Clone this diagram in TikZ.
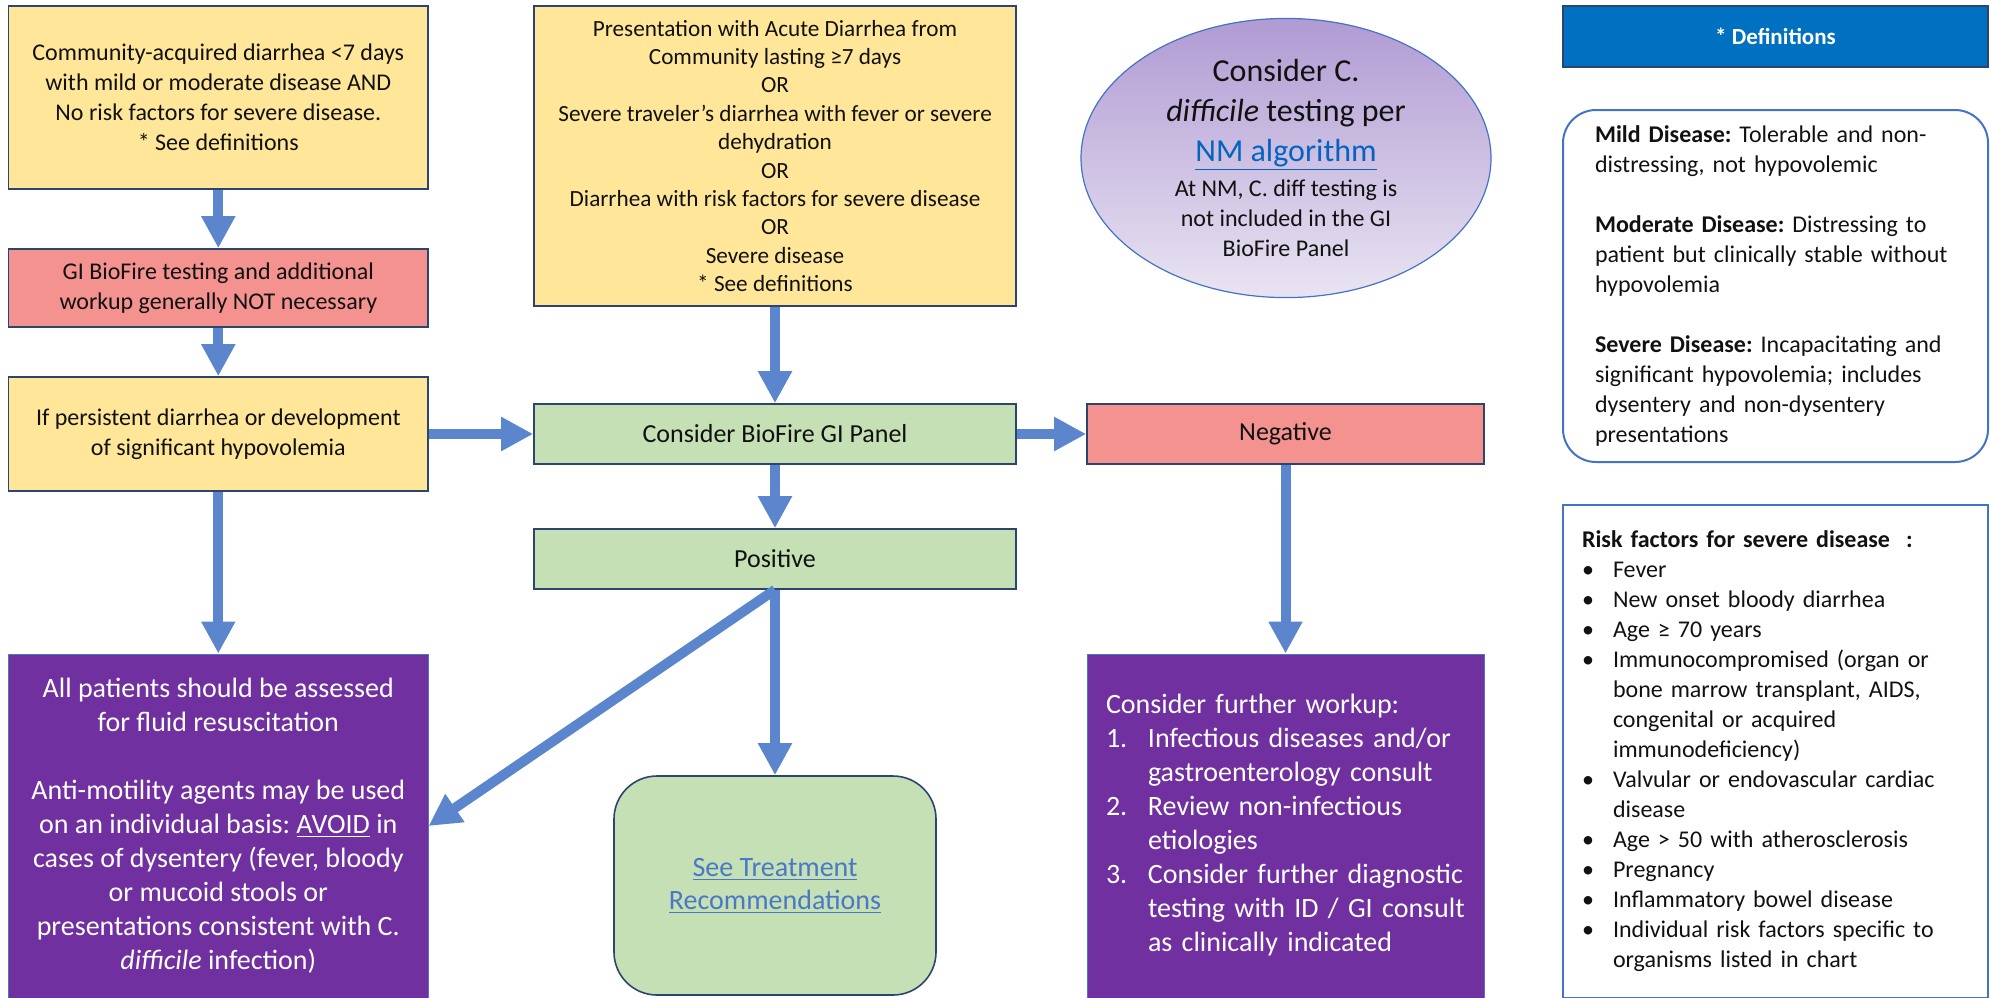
\documentclass[tikz,border=0pt]{standalone}
\usepackage{fontspec}
\setmainfont{Carlito}
\usetikzlibrary{arrows.meta,shapes.geometric}
\definecolor{Ink}{HTML}{111111}
\definecolor{Edge}{HTML}{2C4570}
\definecolor{Butter}{HTML}{FFE699}
\definecolor{Salmon}{HTML}{F4928F}
\definecolor{Sage}{HTML}{C5E0B4}
\definecolor{Plum}{HTML}{7030A0}
\definecolor{PlumEdge}{HTML}{4A78B8}
\definecolor{Flow}{HTML}{5B86CD}
\definecolor{DefBlue}{HTML}{0070C0}
\definecolor{DefEdge}{HTML}{4472C4}
\definecolor{LinkBlue}{HTML}{0563C1}
\definecolor{LinkSoft}{HTML}{4A78C8}
\definecolor{LilacTop}{HTML}{B09BD3}
\definecolor{LilacBot}{HTML}{E9E4F2}
\frenchspacing

\begin{document}
\begin{tikzpicture}[x=0.5pt,y=-0.5pt,
  card/.style={rectangle,draw=Edge,line width=0.8pt,inner sep=0pt,align=center,text=Ink},
  small/.style={font=\fontsize{12}{15}\selectfont},
  tag/.style={card,minimum width=241pt,minimum height=30pt,font=\fontsize{13}{15.6}\selectfont},
  plumcard/.style={card,fill=Plum,draw=PlumEdge,line width=0.5pt,text=white,font=\fontsize{14}{17}\selectfont},
  flow/.style={-{Triangle[length=16pt,width=16pt]},draw=Flow,line width=5pt}]
\useasboundingbox (0,0) rectangle (1990,997);
\node[card,small,fill=Butter,minimum width=209.7pt,minimum height=91.5pt] (mild) at (218.3,97.5)
  {Community-acquired diarrhea <7 days\\with mild or moderate disease AND\\No risk factors for severe disease.\\{*} See definitions};
\node[card,small,fill=Salmon,minimum width=209.7pt,minimum height=39pt] (noTest) at (218.3,288)
  {GI BioFire testing and additional\\workup generally NOT necessary};
\node[card,small,fill=Butter,minimum width=209.7pt,minimum height=57pt] (persist) at (218.3,434)
  {If persistent diarrhea or development\\of significant hypovolemia};
\node[plumcard,minimum width=209.7pt,minimum height=172pt] (fluids) at (218.3,826)
  {All patients should be assessed\\for fluid resuscitation\\[17pt]Anti-motility agents may be used\\on an individual basis: \underline{AVOID} in\\cases of dysentery (fever, bloody\\or mucoid stools or\\presentations consistent with C.\\\textit{difficile} infection)};
\node[card,fill=Butter,minimum width=241pt,minimum height=150pt,font=\fontsize{11.6}{14.2}\selectfont] (present) at (775,156)
  {Presentation with Acute Diarrhea from\\Community lasting ≥7 days\\OR\\Severe traveler’s diarrhea with fever or severe\\dehydration\\OR\\Diarrhea with risk factors for severe disease\\OR\\Severe disease\\{*} See definitions};
\node[tag,fill=Sage] (panel) at (775,434) {Consider BioFire GI Panel};
\node[tag,fill=Sage] (pos) at (775,559) {Positive};
\node[card,fill=Sage,rounded corners=21.5pt,minimum width=161pt,minimum height=109.5pt,text=LinkSoft,font=\fontsize{14}{16.5}\selectfont] (treat) at (775,885.5)
  {\underline{See Treatment}\\\underline{Recommendations}};
\node[ellipse,draw=DefEdge,line width=0.6pt,top color=LilacTop,bottom color=LilacBot,minimum width=205pt,minimum height=134pt,inner sep=0pt,align=center,text=Ink,small] (cdiff) at (1286,158)
  {{\fontsize{16}{20}\selectfont Consider C.}\\[5pt]{\fontsize{16}{20}\selectfont\textit{difficile} testing per}\\[5pt]{\fontsize{16}{20}\selectfont\textcolor{LinkBlue}{\underline{NM algorithm}}}\\[2.5pt]At NM, C. diff testing is\\not included in the GI\\BioFire Panel};
\node[tag,fill=Salmon,minimum width=198.5pt] (neg) at (1285.5,434) {Negative};
\node[plumcard,minimum height=172pt,text width=179.5pt,inner xsep=9.5pt,align=left] (workup) at (1285.5,826)
  {\noindent\begin{tabular}{@{}p{21pt}@{}l@{}}
  \multicolumn{2}{@{}l@{}}{Consider further workup:}\\
  1. & Infectious diseases and/or\\
     & gastroenterology consult\\
  2. & Review non-infectious\\
     & etiologies\\
  3. & Consider further diagnostic\\
     & testing with ID / GI consult\\
     & as clinically indicated
  \end{tabular}};
\node[card,fill=DefBlue,minimum width=212.5pt,minimum height=30.5pt,text=white,font=\fontsize{11.5}{14}\selectfont\bfseries] (defHead) at (1775.5,36.5) {* Definitions};
\node[card,small,draw=DefEdge,line width=1pt,rounded corners=16.5pt,minimum height=176pt,text width=180.5pt,inner xsep=16pt,align=left] (defs) at (1775.5,286)
  {\noindent\begin{tabular}{@{}l@{}}
  \textbf{Mild Disease:} Tolerable and non-\\
  distressing, not hypovolemic\\[15pt]
  \textbf{Moderate Disease:} Distressing to\\
  patient but clinically stable without\\
  hypovolemia\\[15pt]
  \textbf{Severe Disease:} Incapacitating and\\
  significant hypovolemia; includes\\
  dysentery and non-dysentery\\
  presentations
  \end{tabular}};
\node[card,small,draw=DefEdge,minimum height=246.5pt,text width=193.5pt,inner xsep=9.5pt,align=left] (risk) at (1775.5,751.5)
  {\noindent\begin{tabular}{@{}p{15.5pt}@{}l@{}}
  \multicolumn{2}{@{}l@{}}{\textbf{Risk factors for severe disease\ \ :}}\\
  • & Fever\\
  • & New onset bloody diarrhea\\
  • & Age ≥ 70 years\\
  • & Immunocompromised (organ or\\
    & bone marrow transplant, AIDS,\\
    & congenital or acquired\\
    & immunodeficiency)\\
  • & Valvular or endovascular cardiac\\
    & disease\\
  • & Age > 50 with atherosclerosis\\
  • & Pregnancy\\
  • & Inflammatory bowel disease\\
  • & Individual risk factors specific to\\
    & organisms listed in chart
  \end{tabular}};
\draw[flow] (mild) -- (noTest);
\draw[flow] (noTest) -- (persist);
\draw[flow] (persist) -- (fluids);
\draw[flow] (persist) -- (panel);
\draw[flow] (present) -- (panel);
\draw[flow] (panel) -- (pos);
\draw[flow] (panel) -- (neg);
\draw[flow] (pos) -- (treat);
\draw[flow] (pos.south) -- (fluids.east);
\draw[flow] (neg) -- (workup);
\end{tikzpicture}
\end{document}
